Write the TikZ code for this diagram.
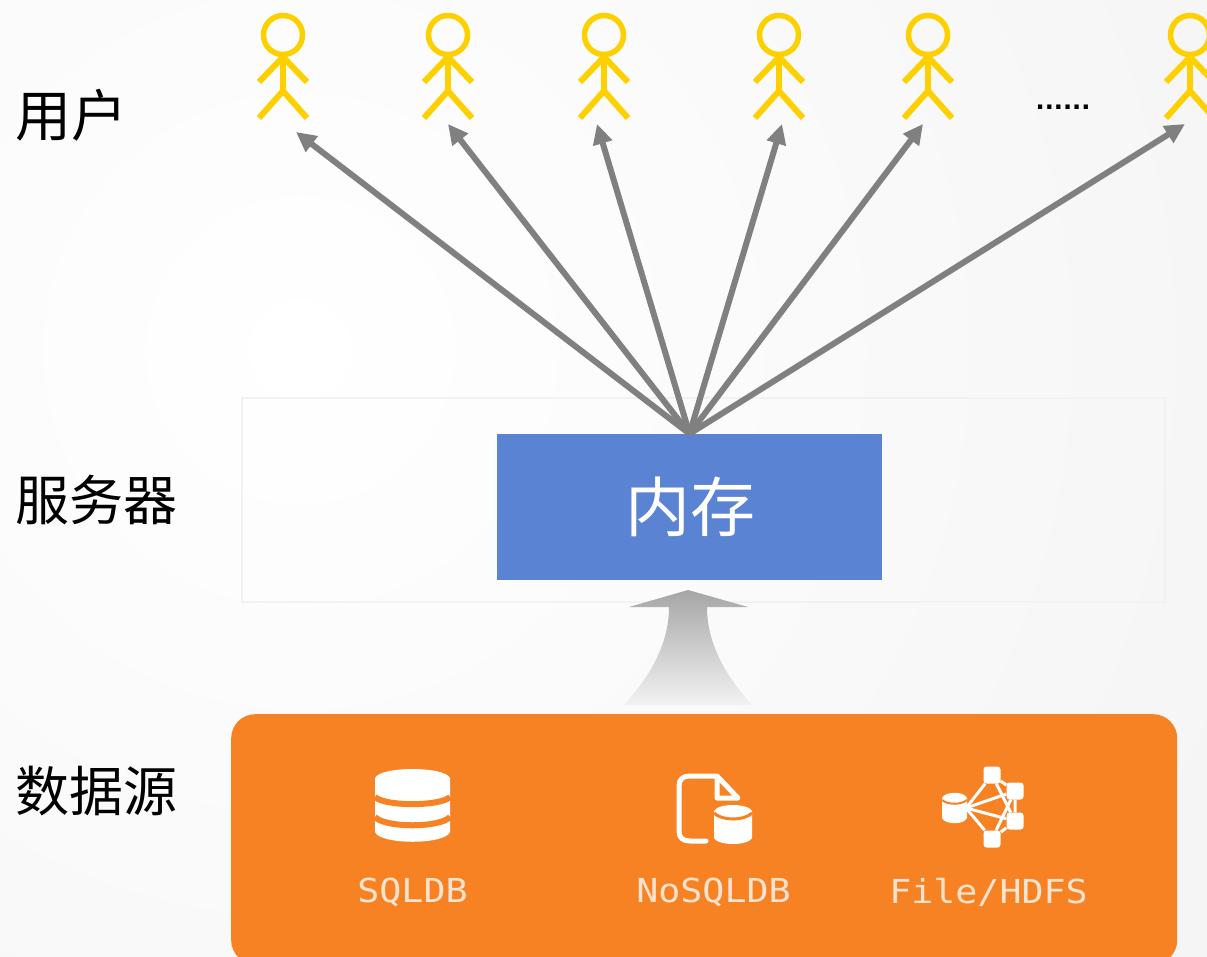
\documentclass[tikz,border=0pt]{standalone}
\usepackage{fontspec}
\setmainfont{Noto Sans CJK SC}
\newfontfamily\monofont[FakeStretch=1.11]{DejaVu Sans Mono}
\newfontfamily\dotfont{DejaVu Sans}
\usetikzlibrary{arrows.meta,positioning}

\definecolor{memblue}{HTML}{5B83D3}
\definecolor{srcorange}{HTML}{F78224}
\definecolor{actoryellow}{HTML}{FFD000}
\definecolor{srctext}{HTML}{FCE3CF}

\tikzset{
  layer/.style={inner sep=0pt,anchor=west,font=\fontsize{54}{54}\selectfont},
  actor/.pic={
    \draw[actoryellow,line width=5.5pt] (0,35) circle (19.5);
    \draw[actoryellow,line width=6pt] (0,55) -- (0,91);
    \draw[actoryellow,line width=6pt] (-24,82) -- (0,57) -- (24,82);
    \draw[actoryellow,line width=6pt] (-24,118) -- (0,91) -- (24,118);
  },
  fan/.style={draw=gray,line width=6pt,-{Triangle[length=20pt,width=19pt]}},
  srclabel/.style={text=srctext,font=\monofont\fontsize{33}{33}\selectfont},
  disk/.style={fill=white,draw=none},
  hub/.style={fill=white,rounded corners=3pt,minimum size=17pt,inner sep=0pt}
}

\begin{document}
\begin{tikzpicture}[x=1pt,y=-1pt]
  \useasboundingbox (0,0) rectangle (1207,956);
  \clip (0,0) rectangle (1207,956);
  \shade[inner color=white,outer color=black!4,shading=radial] (-750,-700) rectangle (1350,1400);

  % users
  \foreach \x in {283,448,604,779,928,1190}
    \pic at (\x,0) {actor};
  \node (dots) [anchor=base,font=\dotfont\bfseries\fontsize{24}{24}\selectfont] at (1063,109) {......};
  \coordinate (u1) at (296,132);
  \coordinate (u2) at (448,124);
  \coordinate (u3) at (597,124);
  \coordinate (u4) at (782,124);
  \coordinate (u5) at (923,124);
  \coordinate (u6) at (1185,124);

  % server
  \node (server) [draw=black!5,line width=1.5pt,minimum width=923pt,minimum height=204pt,inner sep=0pt] at (703.5,500) {};
  \node (mem) [fill=memblue,text=white,minimum width=385pt,minimum height=146pt,inner sep=0pt,font=\fontsize{65}{65}\selectfont] at (689.5,507) {\kern2pt 内存};

  \foreach \i in {1,...,6}
    \draw[fan] (mem.north) -- (u\i);

  % data source
  \node (src) [fill=srcorange,rounded corners=24pt,minimum width=946pt,minimum height=250pt,inner sep=0pt,anchor=north west] at (231,714) {};
  \shade[top color=black!35,bottom color=black!5]
    (688,590) -- (748,607) -- (707,607) .. controls (707,640) and (722,672) .. (752,705)
    -- (624,705) .. controls (654,672) and (669,640) .. (669,607) -- (629,607) -- cycle;

  \fill[disk] (375,778) .. controls (380,766) and (445,766) .. (450,778)
    -- (450,832) .. controls (445,845) and (380,845) .. (375,832) -- cycle;
  \draw[srcorange,line width=6pt] (375,797) .. controls (385,806.5) and (440,806.5) .. (450,797);
  \draw[srcorange,line width=6pt] (375,817) .. controls (385,828) and (440,828) .. (450,817);
  \node (sql) [srclabel] at (412.5,892) {SQLDB};

  \draw[white,line width=5pt,line cap=round,line join=round]
    (706,841) -- (690,841) .. controls (683,841) and (679,838) .. (679,831)
    -- (679,786) .. controls (679,779) and (683,776) .. (690,776) -- (717,776)
    -- (738,798) -- (717,798) -- (717,776);
  \fill[disk] (714,811) .. controls (718,803) and (748,803) .. (752,811)
    -- (752,838) .. controls (748,846) and (718,846) .. (714,838) -- cycle;
  \draw[srcorange,line width=3pt] (714,813) .. controls (722,821) and (744,821) .. (752,813);
  \node (nosql) [srclabel] at (713.5,892) {NoSQLDB};

  \foreach \n/\x/\y in {a/992/775,b/1015/791,c/1015/821,d/992/839} {
    \node (\n) [hub] at (\x,\y) {};
    \draw[white,line width=3pt] (966,808) -- (\n);
  }
  \draw[white,line width=3pt] (a) -- (b) -- (c) -- (d) (a) -- (c) (b) -- (d);
  \fill[disk] (942,798) .. controls (945,791) and (964,791) .. (967,798)
    -- (967,818) .. controls (964,825) and (945,825) .. (942,818) -- cycle;
  \draw[srcorange,line width=2pt] (942,800) .. controls (948,805) and (961,805) .. (967,800);
  \node (hdfs) [srclabel] at (988.5,892) {File/HDFS};

  % labels
  \node (user) [layer,font=\fontsize{56}{56}\selectfont] at (15,115) {用户};
  \node (srv) [layer] at (15,500) {服务器};
  \node (data) [layer] at (15,791) {数据源};
\end{tikzpicture}
\end{document}
